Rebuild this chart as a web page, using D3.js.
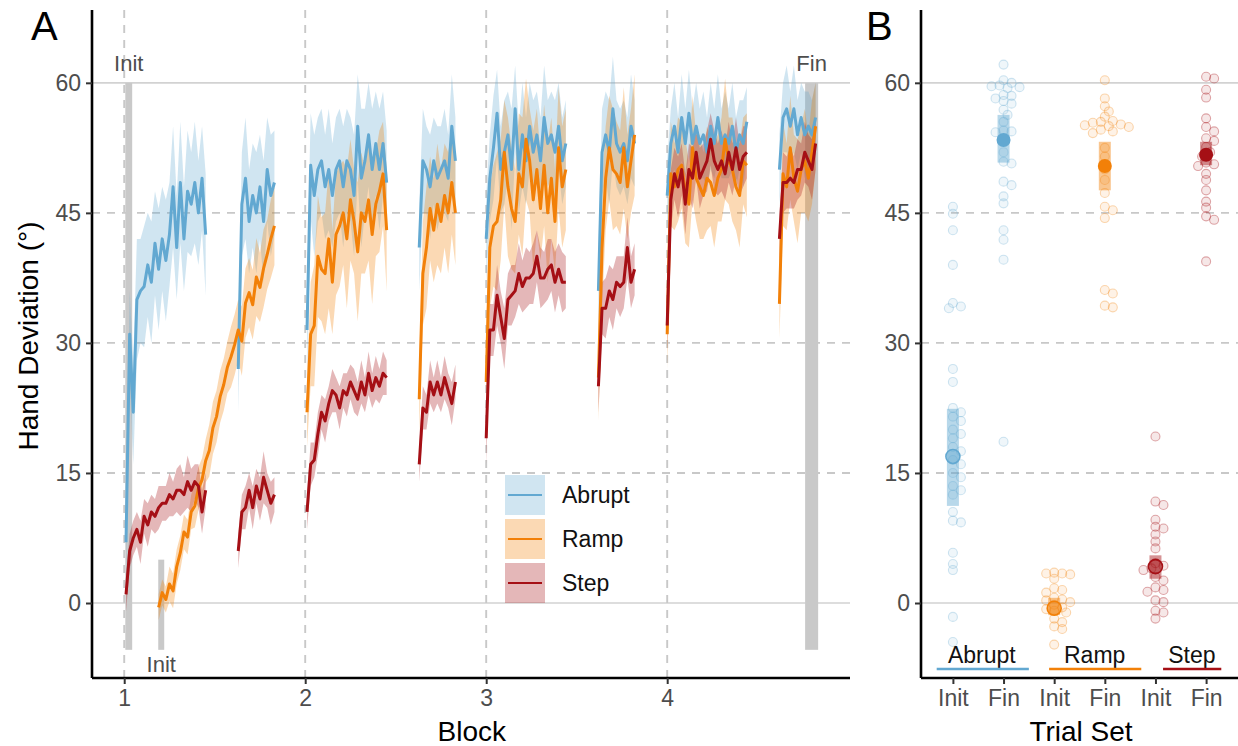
<!DOCTYPE html>
<html><head><meta charset="utf-8">
<script src="https://cdn.jsdelivr.net/npm/d3@7"></script>
<style>body{margin:0;background:#fff;} svg{display:block;font-family:"Liberation Sans",Arial,Helvetica,sans-serif;}</style>
</head><body>
<svg id="chart" width="1238" height="746"></svg>
<script>
// ---------------- DATA ----------------
const conditions = ["Abrupt", "Ramp", "Step"];
const colors = ["#62a8d1", "#f28008", "#a50f15"];
const blockTicks = [1, 2, 3, 4];
const yTicks = [0, 15, 30, 45, 60];
const solidY = [0, 60];
const trialStep = 0.02;

// Panel A: segment start (block units), mean deviation and ribbon half-width per trial
const abruptStarts = [1.01, 1.63, 2.01, 2.63, 3.0, 3.62, 4.0, 4.62];
const abruptMeans = [
  [7, 31, 22, 35, 36, 36.5, 39, 37, 41.5, 38.5, 42, 39.5, 42.5, 48, 41, 48.5, 42, 47.5, 46, 48.5, 45, 49, 42.5],
  [27, 46, 49, 44, 47, 45, 48, 44, 50, 47, 48.5],
  [31.5, 50.5, 47, 50, 51, 48, 50, 47, 50, 51, 48, 51, 50, 47, 55, 49, 51, 54, 50, 53, 50, 53, 48.5],
  [41, 51, 50, 48, 51, 49, 50, 51, 49, 55, 51],
  [42, 49, 52.5, 56.5, 50, 52, 54, 50, 57, 50, 54, 51, 55, 52, 54, 51, 56, 53, 54, 52, 55, 51, 53],
  [36, 52, 54, 52, 57, 53, 52, 53, 51, 55, 53],
  [47, 53, 55, 52, 56, 53, 56.5, 53, 55, 53, 54, 52, 55, 53, 56, 53, 54, 53, 55, 52, 54, 53, 55.5],
  [50, 56, 57, 55, 57, 54, 56, 54, 55, 54, 56]
];
const abruptHalf = [
  [4, 5, 6, 7, 6, 7, 6, 7, 6, 7, 6, 7, 6, 7, 6, 7, 6, 7, 6, 7, 6, 6, 7],
  [5, 6, 7, 6, 6, 7, 6, 7, 6, 7, 6],
  [5, 6, 7, 6, 6, 6, 7, 6, 6, 6, 7, 6, 6, 7, 6, 8, 6, 6, 7, 6, 7, 6, 6],
  [5, 6, 5, 6, 5, 6, 5, 6, 5, 6, 5],
  [5, 5, 6, 5, 5, 6, 5, 7, 5, 5, 6, 5, 5, 6, 5, 5, 6, 5, 5, 6, 5, 5, 5],
  [5, 5, 5, 6, 6, 5, 5, 5, 5, 6, 5],
  [4, 4, 5, 4, 5, 4, 5, 4, 5, 4, 5, 4, 5, 4, 5, 4, 5, 4, 5, 4, 4, 5, 4],
  [4, 4, 5, 4, 5, 4, 4, 5, 4, 4, 4]
];

const rampStarts = [1.19, 2.01, 2.63, 3.0, 3.62, 4.0, 4.62];
const rampMeans = [
  [-0.5, 1.2, 0.4, 2.2, 1.4, 4.2, 5.8, 8.2, 7.6, 10.5, 11.2, 13.2, 14.2, 16.4, 17.6, 20.2, 21.5, 23.8, 25.2, 27.2, 28.4, 29.8, 31.5, 30.2, 34.6, 35.8, 34.4, 37.6, 36.4, 38.6, 40.2, 42, 43.5],
  [22, 31, 32, 40, 38.5, 38, 42, 37, 42.5, 43.5, 45, 42, 46.5, 44, 40.5, 45, 44, 46.5, 42.5, 46, 47.5, 49.5, 43],
  [23.5, 38, 41, 45.5, 43, 46, 44, 47, 45, 48.5, 45],
  [25.5, 41, 43.5, 44, 46.5, 52, 48, 45.5, 44, 49.5, 48, 53.5, 51, 46.5, 50, 45.5, 50.5, 45, 49, 44, 52.5, 48, 50],
  [26, 41, 49, 52.5, 50, 49.5, 48.5, 52.5, 48, 51, 54],
  [31, 49.5, 48, 50, 50.5, 47.5, 46, 52.5, 49, 48, 47, 49, 48.5, 47, 49, 50, 53.5, 51, 50, 48, 47, 51, 50.5],
  [34.5, 49.5, 48, 52.5, 49, 47.5, 50, 51, 49, 52, 55]
];
const rampHalf = [
  [1.5, 1.5, 1.5, 2, 2, 2, 2, 2, 2, 2, 2.5, 2.5, 2.5, 2.5, 3, 3, 3, 3, 3, 3, 3.5, 3.5, 3.5, 4, 4, 4, 4, 4.5, 4, 4.5, 4, 4.5, 4.5],
  [4, 6, 7, 7, 6, 7, 8, 6, 7, 7, 6, 8, 7, 6, 8, 7, 6, 7, 8, 6, 7, 6, 7],
  [4, 6, 7, 6, 6, 7, 6, 6, 7, 6, 6],
  [5, 7, 7, 8, 7, 6, 8, 7, 6, 7, 8, 7, 6, 8, 7, 6, 7, 8, 7, 6, 7, 7, 7],
  [5, 7, 6, 6, 7, 6, 6, 7, 6, 6, 7],
  [4, 6, 5, 6, 5, 6, 5, 6, 5, 6, 5, 6, 5, 6, 5, 6, 7, 5, 6, 5, 6, 5, 6],
  [4, 6, 5, 6, 5, 6, 5, 6, 5, 6, 5]
];

const stepStarts = [1.01, 1.63, 2.01, 2.63, 3.0, 3.62, 4.0, 4.62];
const stepMeans = [
  [1, 6, 7.5, 8.5, 7, 10, 9, 10.5, 10, 11, 11.5, 11.5, 12.5, 12, 13, 13, 12.5, 14, 13, 14, 13.5, 10.5, 13],
  [6, 10.5, 11, 13, 11, 13.5, 12, 14.5, 13, 11.5, 12.5],
  [10.5, 16, 16.5, 19.5, 22, 21, 23, 24.5, 24, 22.5, 24.5, 24, 25.5, 24.5, 23.5, 25.5, 24, 26.5, 24.5, 26, 25, 26.5, 26],
  [16, 22.5, 22, 25.5, 24, 25.5, 24, 26, 24.5, 23, 25.5],
  [19, 31.5, 31.5, 35.5, 33, 30.5, 35, 35.5, 36, 38, 36.5, 37.5, 37.5, 38, 40, 37.5, 37.5, 38.5, 39, 37, 38.5, 37, 37],
  [25, 34, 34, 36, 35, 37, 36.5, 37, 41, 37, 38.5],
  [32, 46.5, 49.5, 48, 50, 46, 50, 49, 52, 49, 50, 51, 53.5, 51, 50, 51, 49.5, 52, 50, 52.5, 50, 51.5, 52],
  [42, 48.5, 48.5, 49, 48.5, 50, 50, 52, 51, 50, 53]
];
const stepHalf = [
  [2, 2, 2, 2, 2.5, 2, 2.5, 2, 2, 2.5, 2, 2, 2.5, 2, 2.5, 3, 2, 3, 2.5, 2, 2.5, 2.5, 2],
  [2, 2, 2.5, 2, 2.5, 2, 2.5, 3, 2, 2.5, 2],
  [2, 2.5, 2, 2.5, 2, 2.5, 2, 2.5, 2, 2.5, 2, 2.5, 2, 2.5, 2, 2.5, 2, 2.5, 2, 2.5, 2, 2.5, 2],
  [2, 2.5, 2, 2.5, 2, 2.5, 2, 2.5, 2, 2.5, 2],
  [3, 3, 3, 3.5, 3, 3.5, 3, 3.5, 3, 3.5, 3, 3.5, 3, 3.5, 3, 3.5, 3, 3.5, 3, 3.5, 3, 3.5, 3],
  [3, 3, 3.5, 3, 3.5, 3, 3.5, 3, 3.5, 3, 3],
  [3, 3.5, 3, 3.5, 3, 3.5, 3, 3.5, 3, 3.5, 3, 3.5, 3, 3.5, 3, 3.5, 3, 3.5, 3, 3.5, 3, 3.5, 3],
  [3, 3.5, 3, 3.5, 3, 3.5, 3, 3.5, 3, 3.5, 3]
];

// Trial windows used for panel B (block units, degrees)
const windowLabels = ["Init", "Init", "Fin"];
const windowStart = [1.006, 1.188, 4.762];
const windowEnd = [1.044, 1.221, 4.834];
const windowTop = [60, 5, 60];
const windowBottom = [-5.4, -5.4, -5.4];
const windowLabelSide = ["top", "bottom", "top"];

// Panel B
const trialSets = ["Init", "Fin"];
const abruptInit = [45.7, 44.9, 43, 39, 34.6, 34.2, 34, 27, 25.5, 22.5, 22, 21.5, 21, 20, 19.5, 19, 18, 17.5, 16.5, 16, 15, 14.5, 13.5, 13, 12.5, 10.5, 9.5, 9.3, 5.8, 4.5, 3.8, -1.6, -4.5];
const abruptFin = [62.1, 60.3, 60, 59.7, 59.6, 59.5, 59.4, 58.6, 58.5, 58.2, 57.9, 57.6, 56.9, 56.3, 55.5, 54.5, 54.4, 54.3, 53.5, 52, 50.9, 50.7, 48.6, 48.2, 46.9, 46.1, 43, 41.9, 39.6, 18.6];
const rampInit = [3.5, 3.4, 3.4, 3.3, 2.8, 1.7, 1.5, 1.2, 0.6, 0.4, 0.3, 0.1, -0.2, -0.5, -0.7, -0.9, -1.1, -1.8, -2.2, -2.7, -3, -4.8];
const rampFin = [60.3, 58.2, 57.3, 56.7, 56.1, 55.6, 55.5, 55.4, 55.2, 55.1, 55, 54.9, 54.6, 54.4, 54.2, 52.5, 51.5, 50, 48.8, 47.3, 45.7, 45.3, 44.4, 36.1, 35.7, 34.3, 34.1];
const stepInit = [19.2, 11.7, 11.3, 9.6, 8.8, 8.6, 7.9, 7.1, 6.3, 4.6, 4.3, 4, 3.8, 3, 2.6, 1.8, 1.5, 1.3, 0.3, 0.1, -0.9, -1.1, -1.8];
const stepFin = [60.7, 60.5, 59.2, 58.3, 55.9, 54.9, 54.4, 53.6, 53.3, 52.6, 52, 51.5, 50.8, 50.6, 50.4, 49.5, 48.8, 47.6, 46.3, 45.6, 44.6, 44.2, 39.4];
const groupMeans = [[16.9, 53.4], [-0.6, 50.4], [4.2, 51.7]];
const groupLo = [[11.2, 50.8], [-1.4, 47.6], [2.8, 50.5]];
const groupHi = [[22.4, 56.3], [0.6, 53.2], [5.5, 53.2]];
// group label spans in panel-B position units (1..6)
const groupLabelCenter = [1.57, 3.8, 5.72];
const groupLineStart = [0.68, 2.9, 5.15];
const groupLineEnd = [2.5, 4.72, 6.3];

// ---------------- BUILD ----------------
const svg = d3.select("#chart");
const tickCol = "#4d4d4d", gridCol = "#c8c8c8";

const y = d3.scaleLinear().domain([-8.65, 68.4]).range([678, 10]);
const xA = d3.scaleLinear().domain([0.822, 5.01]).range([92, 850]);
const xB = d3.scaleLinear().domain([0.37, 6.63]).range([921, 1238]);

function buildSeries(starts, means, half) {
  return starts.map((s, i) => means[i].map((v, j) => ({x: s + j * trialStep, y: v, lo: v - half[i][j], hi: v + half[i][j]})));
}
const series = [
  buildSeries(abruptStarts, abruptMeans, abruptHalf),
  buildSeries(rampStarts, rampMeans, rampHalf),
  buildSeries(stepStarts, stepMeans, stepHalf)
];

// ---- Panel A ----
const gA = svg.append("g");
gA.selectAll(".hg").data(yTicks).join("line")
  .attr("x1", 92).attr("x2", 850).attr("y1", d => y(d)).attr("y2", d => y(d))
  .attr("stroke", d => solidY.includes(d) ? "#d2d2d2" : gridCol)
  .attr("stroke-width", d => solidY.includes(d) ? 1.6 : 1.9)
  .attr("stroke-dasharray", d => solidY.includes(d) ? null : "8,7");
gA.selectAll(".vg").data(blockTicks).join("line")
  .attr("x1", d => xA(d)).attr("x2", d => xA(d)).attr("y1", 10).attr("y2", 678)
  .attr("stroke", gridCol).attr("stroke-width", 1.9).attr("stroke-dasharray", "8,7");

windowLabels.forEach((lab, i) => {
  gA.append("rect")
    .attr("x", xA(windowStart[i])).attr("width", xA(windowEnd[i]) - xA(windowStart[i]))
    .attr("y", y(windowTop[i])).attr("height", y(windowBottom[i]) - y(windowTop[i]))
    .attr("fill", "#c9c9c9");
  const cx = (xA(windowStart[i]) + xA(windowEnd[i])) / 2;
  gA.append("text").attr("x", cx)
    .attr("y", windowLabelSide[i] === "top" ? y(windowTop[i]) - 12 : y(windowBottom[i]) + 22)
    .attr("text-anchor", "middle").attr("font-size", 22).attr("fill", tickCol).text(lab);
});

const area = d3.area().x(d => xA(d.x)).y0(d => y(d.lo)).y1(d => y(d.hi));
const line = d3.line().x(d => xA(d.x)).y(d => y(d.y));
series.forEach((segs, c) => {
  gA.append("g").selectAll("path").data(segs).join("path")
    .attr("d", area).attr("fill", colors[c]).attr("fill-opacity", 0.3);
});
series.forEach((segs, c) => {
  gA.append("g").selectAll("path").data(segs).join("path")
    .attr("d", line).attr("fill", "none").attr("stroke", colors[c])
    .attr("stroke-width", 3).attr("stroke-linejoin", "round");
});

const axA = gA.append("g").attr("transform", "translate(0,678)")
  .call(d3.axisBottom(xA).tickValues(blockTicks).tickSize(6).tickPadding(6).tickFormat(d3.format("d")));
const ayA = gA.append("g").attr("transform", "translate(92,0)")
  .call(d3.axisLeft(y).tickValues(yTicks).tickSize(6).tickPadding(5));
[axA, ayA].forEach(a => {
  a.select(".domain").attr("stroke", "#000").attr("stroke-width", 2.6);
  a.selectAll(".tick line").attr("stroke", "#333").attr("stroke-width", 2);
  a.selectAll(".tick text").attr("fill", tickCol).attr("font-size", 23).attr("font-family", "Liberation Sans, Arial, sans-serif");
});
axA.select(".domain").attr("d", "M92,0H850");
ayA.select(".domain").attr("d", "M0,10V678");

const legY0 = 475;
conditions.forEach((c, i) => {
  const gy = legY0 + i * 44;
  gA.append("rect").attr("x", 505).attr("y", gy).attr("width", 40).attr("height", 40)
    .attr("fill", colors[i]).attr("fill-opacity", 0.3);
  gA.append("line").attr("x1", 508).attr("x2", 542).attr("y1", gy + 20).attr("y2", gy + 20)
    .attr("stroke", colors[i]).attr("stroke-width", 2.2);
  gA.append("text").attr("x", 562).attr("y", gy + 28).attr("font-size", 23).attr("fill", "#111").text(c);
});

svg.append("text").attr("x", 31).attr("y", 40).attr("font-size", 40).attr("fill", "#000").text("A");
svg.append("text").attr("transform", "translate(38,336) rotate(-90)").attr("text-anchor", "middle")
  .attr("font-size", 28).attr("fill", "#000").text("Hand Deviation (°)");
svg.append("text").attr("x", xA(2.92)).attr("y", 741).attr("text-anchor", "middle")
  .attr("font-size", 28).attr("fill", "#000").text("Block");

// ---- Panel B ----
const gB = svg.append("g");
gB.selectAll(".hg").data(yTicks).join("line")
  .attr("x1", 921).attr("x2", 1238).attr("y1", d => y(d)).attr("y2", d => y(d))
  .attr("stroke", d => solidY.includes(d) ? "#d2d2d2" : gridCol)
  .attr("stroke-width", d => solidY.includes(d) ? 1.6 : 1.9)
  .attr("stroke-dasharray", d => solidY.includes(d) ? null : "8,7");

const pointSets = [[abruptInit, abruptFin], [rampInit, rampFin], [stepInit, stepFin]];
function swarm(vals, cx) {
  const placed = [];
  const pts = vals.map(v => ({v, py: y(v)})).sort((a, b) => a.py - b.py);
  pts.forEach(p => {
    for (let k = 0; k < 14; k++) {
      const off = k === 0 ? 0 : (k % 2 ? 1 : -1) * Math.ceil(k / 2) * 4;
      const px = cx + off;
      if (placed.every(q => Math.hypot(q.px - px, q.py - p.py) >= 6)) { p.px = px; placed.push(p); break; }
    }
    if (p.px === undefined) { p.px = cx; placed.push(p); }
  });
  return pts;
}
pointSets.forEach((sets, g) => {
  sets.forEach((vals, s) => {
    const pos = g * 2 + s + 1;
    const pts = swarm(vals, xB(pos));
    gB.append("g").selectAll("circle").data(pts).join("circle")
      .attr("cx", d => d.px).attr("cy", d => d.py).attr("r", 4.5)
      .attr("fill", colors[g]).attr("fill-opacity", 0.1)
      .attr("stroke", colors[g]).attr("stroke-opacity", g === 2 ? 0.35 : 0.3).attr("stroke-width", 1.1);
  });
});
groupMeans.forEach((ms, g) => {
  ms.forEach((m, s) => {
    const cx = xB(g * 2 + s + 1);
    gB.append("rect").attr("x", cx - 6).attr("width", 12)
      .attr("y", y(groupHi[g][s])).attr("height", y(groupLo[g][s]) - y(groupHi[g][s]))
      .attr("fill", colors[g]).attr("fill-opacity", 0.45);
    const c = gB.append("circle").attr("cx", cx).attr("cy", y(m)).attr("r", 7);
    if (s === 0) c.attr("fill", colors[g]).attr("fill-opacity", 0.45).attr("stroke", colors[g]).attr("stroke-width", 1.6);
    else c.attr("fill", colors[g]);
  });
});

conditions.forEach((c, g) => {
  gB.append("text").attr("x", xB(groupLabelCenter[g])).attr("y", 663).attr("text-anchor", "middle")
    .attr("font-size", 23).attr("fill", "#111").text(c);
  gB.append("line").attr("x1", xB(groupLineStart[g])).attr("x2", xB(groupLineEnd[g]))
    .attr("y1", 669).attr("y2", 669).attr("stroke", colors[g]).attr("stroke-width", 2.5);
});

const xBticks = d3.range(1, 7);
const axB = gB.append("g").attr("transform", "translate(0,678)")
  .call(d3.axisBottom(xB).tickValues(xBticks).tickSize(6).tickPadding(6).tickFormat(d => trialSets[(d - 1) % 2]));
const ayB = gB.append("g").attr("transform", "translate(921,0)")
  .call(d3.axisLeft(y).tickValues(yTicks).tickSize(6).tickPadding(5));
[axB, ayB].forEach(a => {
  a.select(".domain").attr("stroke", "#000").attr("stroke-width", 2.6);
  a.selectAll(".tick line").attr("stroke", "#333").attr("stroke-width", 2);
  a.selectAll(".tick text").attr("fill", tickCol).attr("font-size", 23).attr("font-family", "Liberation Sans, Arial, sans-serif");
});
axB.select(".domain").attr("d", "M921,0H1238");
ayB.select(".domain").attr("d", "M0,10V678");

svg.append("text").attr("x", 866).attr("y", 40).attr("font-size", 40).attr("fill", "#000").text("B");
svg.append("text").attr("x", 1081).attr("y", 741).attr("text-anchor", "middle")
  .attr("font-size", 28).attr("fill", "#000").text("Trial Set");
</script>
</body></html>
